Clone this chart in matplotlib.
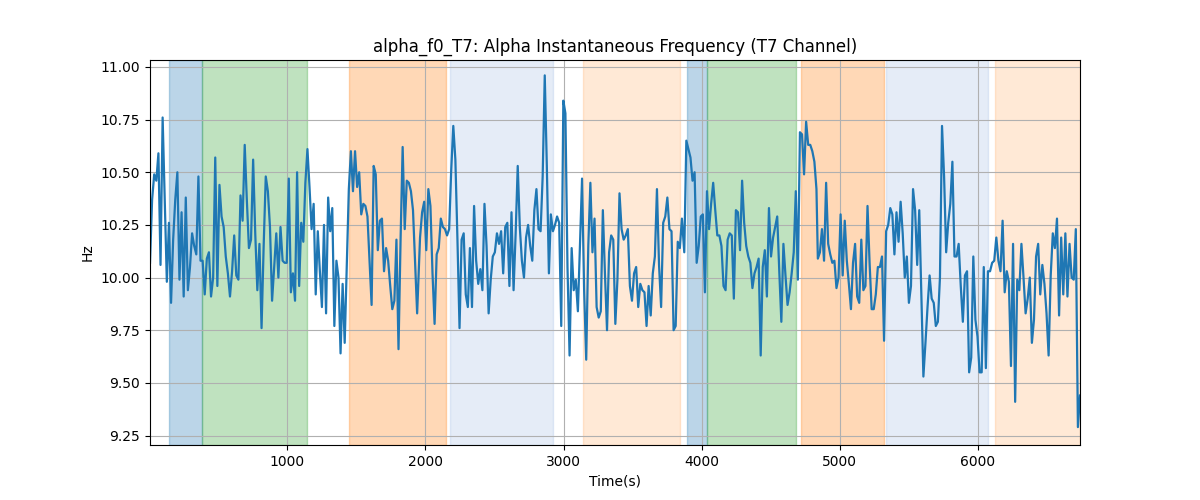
import matplotlib
matplotlib.use("Agg")
import matplotlib.pyplot as plt
import numpy as np

seg1 = [10.07, 10.37, 10.49, 10.46, 10.59, 10.06, 10.76, 10.37, 9.98, 10.26, 9.88, 10.18, 10.37, 10.50,
        9.99, 10.31, 9.91, 10.38, 9.94, 10.05, 10.21, 10.15, 10.11, 10.48, 10.08, 10.08, 9.92, 10.09,
        10.12, 9.91, 10.00, 10.57, 9.96, 10.44, 10.29, 10.24, 10.10, 10.02, 9.91, 10.03, 10.20, 10.01,
        9.99, 10.39, 10.27, 10.63, 10.37, 10.14, 10.18, 10.56, 10.21, 9.94, 10.16, 9.76, 10.15, 10.48,
        10.41, 10.24, 9.89, 10.05, 10.21, 10.00, 10.24, 10.08]
seg2 = [10.07, 10.07, 10.47, 9.93, 10.02, 9.89, 10.50, 9.96, 10.26, 10.17, 10.45, 10.61, 10.43, 10.23,
        10.35, 9.92, 10.22, 10.03, 9.86, 10.25, 9.83, 10.38, 10.22, 10.33, 9.77, 10.08, 10.00, 9.64,
        9.97, 9.69, 10.05, 10.42, 10.60, 10.41, 10.60, 10.43, 10.50, 10.30, 10.35, 10.34, 10.29, 10.08,
        9.87, 10.53, 10.49, 10.13, 10.27, 10.28, 10.03, 10.14, 10.08, 9.96, 9.85, 9.89, 10.18, 9.66,
        10.18, 10.62, 10.23, 10.46, 10.45, 10.41, 10.32, 10.08, 9.83]
seg3 = [10.19, 10.31, 10.36, 10.13, 10.42, 10.34, 10.02, 9.78, 10.11, 10.14, 10.28, 10.24, 10.23, 10.20,
        10.23, 10.51, 10.72, 10.56, 10.18, 9.76, 10.18, 10.21, 9.92, 9.86, 10.14, 9.86, 10.34, 10.08,
        9.97, 10.04, 9.94, 10.35, 10.15, 9.83, 9.99, 10.10, 10.12, 10.21, 10.16, 10.22, 10.02, 10.24,
        10.26, 9.96, 10.31, 9.94, 10.21, 10.53, 10.24, 10.08, 10.00, 10.19, 10.25, 10.15, 10.08, 10.32,
        10.42, 10.23, 10.22, 10.48, 10.96, 10.53, 10.02]
seg4 = [10.30, 10.22, 10.25, 10.29, 10.26, 9.77, 10.84, 10.78, 10.05, 9.63, 10.14, 9.94, 9.99, 9.84,
        10.16, 10.47, 9.94, 9.61, 10.15, 10.45, 10.12, 10.28, 9.86, 9.81, 9.84, 10.32, 10.02, 9.75,
        10.12, 10.20, 10.18, 9.78, 9.99, 10.40, 10.23, 10.18, 10.20, 10.23, 9.96, 9.89, 10.02, 10.05,
        9.86, 9.97, 9.94, 9.93, 9.77, 9.96, 9.82, 10.02, 10.10, 10.42, 10.06, 9.86, 10.26, 10.29,
        10.38, 10.23, 10.22, 9.75, 9.77, 10.17, 10.14, 10.28]
seg5 = [10.12, 10.65, 10.61, 10.57, 10.46, 10.50, 10.07, 10.15, 10.29, 10.30, 9.93, 10.41, 10.23, 10.35,
        10.45, 10.32, 10.20, 10.20, 10.15, 9.96, 9.94, 10.18, 10.21, 10.20, 9.90, 10.32, 10.31, 10.13,
        10.46, 10.26, 10.15, 10.10, 10.07, 9.95, 10.02, 10.05, 10.09, 9.63, 10.05, 10.13, 9.91, 10.33,
        10.10, 10.19, 10.24, 10.29, 10.03, 9.79, 10.16, 10.01, 9.87, 9.93, 10.02, 10.12, 10.41, 9.99,
        10.69, 10.68, 10.49, 10.74, 10.63, 10.63, 10.60, 10.55, 10.42]
seg6 = [10.09, 10.12, 10.23, 10.08, 10.45, 10.16, 10.11, 10.07, 10.08, 9.95, 10.00, 10.30, 10.01, 10.27,
        10.08, 9.97, 9.85, 10.07, 10.16, 9.91, 9.88, 10.18, 9.94, 9.96, 10.34, 10.07, 9.85, 9.85,
        9.92, 10.05, 10.05, 10.10, 9.70, 10.22, 10.25, 10.33, 10.30, 10.11, 10.31, 10.17, 10.36, 10.21,
        10.00, 10.10, 9.88, 9.96, 10.42, 10.32, 10.06, 10.32, 9.92, 9.53, 9.69, 9.86, 10.01, 9.90,
        9.88, 9.77, 9.79, 10.00, 10.72, 10.48, 10.12, 10.26]
seg7 = [10.35, 10.55, 10.10, 10.10, 10.16, 9.96, 9.79, 10.01, 10.03, 9.55, 9.62, 10.10, 9.80, 9.72,
        9.55, 9.55, 10.05, 9.57, 10.03, 10.03, 10.07, 10.08, 10.19, 10.08, 10.03, 10.27, 9.93, 10.03,
        9.98, 9.58, 10.16, 9.41, 9.99, 9.94, 10.16, 10.00, 9.83, 9.90, 10.00, 9.69, 9.80, 10.10,
        10.16, 9.92, 10.06, 9.97, 9.83, 9.63, 10.01, 10.21, 10.14, 10.28, 9.82, 10.19, 9.92, 10.21,
        9.91, 10.16, 10.00, 9.99, 10.23, 9.29, 9.44]

# (start, end) time in seconds of each block
seg_times = [(6, 966), (981, 1940), (1961, 2894), (2908, 3857),
             (3874, 4831), (4841, 5785), (5800, 6739)]

# shaded phases: start, end, colour, alpha
span_start = [145, 384, 1449, 2179, 3138, 3897, 4040, 4717, 5338, 6123]
span_end = [384, 1141, 2150, 2925, 3841, 4040, 4681, 5321, 6070, 6739]
span_color = ["tab:blue", "tab:green", "tab:orange", "#6f9bd8", "tab:orange",
              "tab:blue", "tab:green", "tab:orange", "#6f9bd8", "tab:orange"]
span_alpha = [0.3, 0.3, 0.3, 0.18, 0.17, 0.3, 0.3, 0.3, 0.18, 0.17]

segs = [seg1, seg2, seg3, seg4, seg5, seg6, seg7]
t = np.concatenate([np.linspace(a, b, len(s)) for (a, b), s in zip(seg_times, segs)])
f0 = np.concatenate([np.array(s) for s in segs])

fig, ax = plt.subplots(figsize=(12, 5), dpi=100)
for a, b, c, al in zip(span_start, span_end, span_color, span_alpha):
    ax.axvspan(a, b, color=c, alpha=al)
ax.plot(t, f0, color="tab:blue", lw=1.6)
ax.set_xlim(t.min(), t.max())
ax.set_ylim(9.205, 11.033)
ax.grid(True)
ax.set_title("alpha_f0_T7: Alpha Instantaneous Frequency (T7 Channel)")
ax.set_xlabel("Time(s)")
ax.set_ylabel("Hz")
fig.savefig("out.png")
